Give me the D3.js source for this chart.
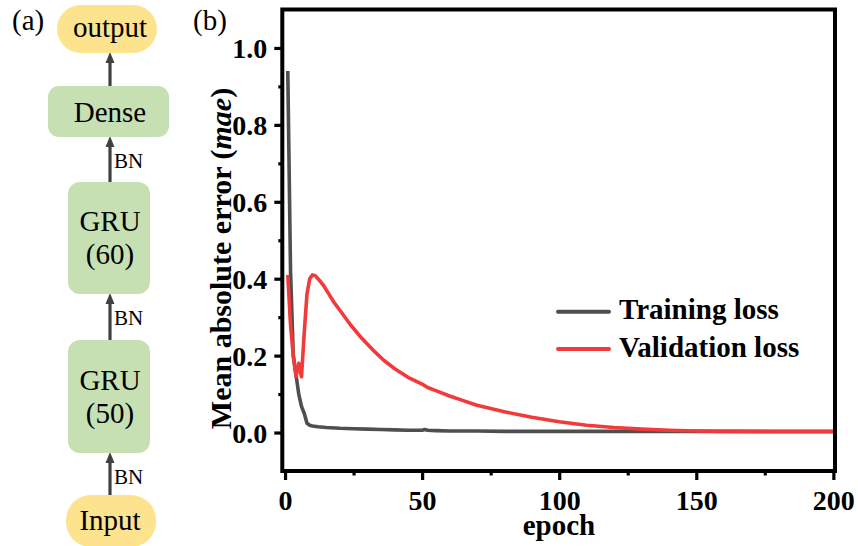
<!DOCTYPE html>
<html>
<head>
<meta charset="utf-8">
<script src="https://cdn.jsdelivr.net/npm/d3@7"></script>
<style>
  html, body { margin: 0; padding: 0; background: #fff; }
  svg { display: block; }
  text { font-family: "Liberation Serif", "Times New Roman", serif; }
</style>
</head>
<body>
<svg id="fig" width="858" height="546"></svg>
<script>
// ---- data ----
const trainEpochs = [1, 2, 3, 4, 5, 6, 7, 8, 9, 10, 12, 15, 20, 25, 30, 35, 40, 45, 50, 51, 52, 55, 60, 70, 80, 90, 100, 120, 140, 160, 180, 200];
const trainLoss   = [0.94, 0.42, 0.20, 0.15, 0.10, 0.068, 0.05, 0.024, 0.019, 0.017, 0.015, 0.013, 0.011, 0.010, 0.009, 0.008, 0.007, 0.006, 0.006, 0.008, 0.006, 0.005, 0.004, 0.004, 0.003, 0.003, 0.003, 0.003, 0.003, 0.003, 0.003, 0.003];

const valEpochs = [1, 2, 3, 4, 5, 6, 7, 8, 9, 10, 11, 12, 14, 16, 18, 20, 24, 28, 32, 36, 40, 45, 50, 52, 55, 60, 65, 70, 80, 90, 100, 110, 120, 130, 140, 150, 160, 180, 200];
const valLoss   = [0.41, 0.28, 0.20, 0.145, 0.18, 0.145, 0.26, 0.36, 0.40, 0.41, 0.408, 0.40, 0.383, 0.36, 0.337, 0.318, 0.279, 0.245, 0.215, 0.188, 0.166, 0.143, 0.126, 0.117, 0.109, 0.095, 0.083, 0.071, 0.054, 0.040, 0.028, 0.019, 0.013, 0.009, 0.006, 0.004, 0.003, 0.002, 0.002];

const seriesNames = ["Training loss", "Validation loss"];
const seriesColors = ["#4f4f4f", "#f23a3a"];

const yMajorTicks = [0, 0.2, 0.4, 0.6, 0.8, 1.0];
const yMinorTicks = [0.1, 0.3, 0.5, 0.7, 0.9];
const xMajorTicks = [0, 50, 100, 150, 200];
const xMinorTicks = [25, 75, 125, 175];

// network diagram layers (top to bottom)
const layers = [
  { lines: ["output"], kind: "io" },
  { lines: ["Dense"], kind: "layer" },
  { lines: ["GRU", "(60)"], kind: "layer" },
  { lines: ["GRU", "(50)"], kind: "layer" },
  { lines: ["Input"], kind: "io" }
];
const edgeLabels = ["", "BN", "BN", "BN"];

// ---- drawing ----
const svg = d3.select("#fig");
const serif = '"Liberation Serif", "Times New Roman", serif';

// ===== panel (a): architecture =====
const boxes = [
  { x: 57, y: 5,   w: 100, h: 48,  r: 24 },
  { x: 48, y: 86,  w: 121, h: 51,  r: 11 },
  { x: 68, y: 182, w: 82,  h: 112, r: 12 },
  { x: 68, y: 340, w: 82,  h: 113, r: 12 },
  { x: 66, y: 495, w: 90,  h: 52,  r: 25 }
];
const baselines = [[37], [121.5], [231, 264], [390, 423], [530]];
const cx = 110;

const pa = svg.append("g");
pa.append("text").attr("x", 12).attr("y", 30).attr("font-size", 29).text("(a)");

// arrows between consecutive boxes, pointing upward
const arrowColor = "#404040";
for (let i = 0; i < boxes.length - 1; i++) {
  const top = boxes[i].y + boxes[i].h;
  const bottom = boxes[i + 1].y;
  pa.append("line")
    .attr("x1", cx).attr("x2", cx)
    .attr("y1", bottom).attr("y2", top + 8)
    .attr("stroke", arrowColor).attr("stroke-width", 3.2);
  pa.append("path")
    .attr("d", `M${cx},${top - 1} L${cx - 4.5},${top + 10} L${cx + 4.5},${top + 10} Z`)
    .attr("fill", arrowColor);
  if (edgeLabels[i]) {
    pa.append("text")
      .attr("x", 114).attr("y", top + 31)
      .attr("font-size", 21)
      .text(edgeLabels[i]);
  }
}

layers.forEach((layer, i) => {
  const b = boxes[i];
  pa.append("rect")
    .attr("x", b.x).attr("y", b.y).attr("width", b.w).attr("height", b.h)
    .attr("rx", b.r).attr("ry", b.r)
    .attr("fill", layer.kind === "io" ? "#fee38f" : "#c6e0b4");
  layer.lines.forEach((t, j) => {
    pa.append("text")
      .attr("x", cx).attr("y", baselines[i][j])
      .attr("text-anchor", "middle")
      .attr("font-size", 29)
      .text(t);
  });
});

// ===== panel (b): loss curves =====
svg.append("text").attr("x", 193).attr("y", 30).attr("font-size", 29).text("(b)");

const x = d3.scaleLinear().domain([-1, 200.6]).range([282.3, 835]);
const y = d3.scaleLinear().domain([-0.1, 1.1]).range([471, 9.5]);

const plot = svg.append("g");

// curves
const line = d3.line().x(d => x(d[0])).y(d => y(d[1]));
const trainData = d3.zip(trainEpochs, trainLoss);
const valData = d3.zip(valEpochs, valLoss);

plot.append("path").datum(trainData)
  .attr("d", line).attr("fill", "none")
  .attr("stroke", seriesColors[0]).attr("stroke-width", 3.6)
  .attr("stroke-linejoin", "round");
plot.append("path").datum(valData)
  .attr("d", line).attr("fill", "none")
  .attr("stroke", seriesColors[1]).attr("stroke-width", 3.6)
  .attr("stroke-linejoin", "round");

// frame
const [x0, x1] = x.range();
const [y0, y1] = y.range();
plot.append("rect")
  .attr("x", x0).attr("y", y1).attr("width", x1 - x0).attr("height", y0 - y1)
  .attr("fill", "none").attr("stroke", "#000").attr("stroke-width", 4);

// axes
function styleAxis(g) {
  g.select(".domain").remove();
  g.selectAll(".tick line").attr("stroke", "#000").attr("stroke-width", 3.2);
  g.selectAll(".tick text")
    .attr("fill", "#000")
    .attr("font-family", serif)
    .attr("font-weight", "bold")
    .attr("font-size", 28);
}

const yAxis = plot.append("g").attr("transform", `translate(${x0},0)`)
  .call(d3.axisLeft(y).tickValues(yMajorTicks).tickSize(8).tickPadding(7).tickFormat(d3.format(".1f")))
  .call(styleAxis);
yAxis.selectAll(".tick text").attr("dy", "0.34em");

plot.append("g").attr("transform", `translate(${x0},0)`)
  .call(d3.axisLeft(y).tickValues(yMinorTicks).tickSize(4).tickFormat(""))
  .call(styleAxis);

const xAxis = plot.append("g").attr("transform", `translate(0,${y0})`)
  .call(d3.axisBottom(x).tickValues(xMajorTicks).tickSize(9).tickFormat(d3.format("d")))
  .call(styleAxis);
xAxis.selectAll(".tick text").attr("y", 39).attr("dy", null);

plot.append("g").attr("transform", `translate(0,${y0})`)
  .call(d3.axisBottom(x).tickValues(xMinorTicks).tickSize(4.5).tickFormat(""))
  .call(styleAxis);

// axis titles
svg.append("text")
  .attr("transform", `translate(231,${(85 + 432) / 2}) rotate(-90)`)
  .attr("text-anchor", "middle")
  .attr("font-size", 30).attr("font-weight", "bold")
  .call(t => {
    t.append("tspan").text("Mean absolute error (");
    t.append("tspan").attr("font-style", "italic").text("mae");
    t.append("tspan").text(")");
  });

svg.append("text")
  .attr("x", 559).attr("y", 535)
  .attr("text-anchor", "middle")
  .attr("font-size", 29).attr("font-weight", "bold")
  .text("epoch");

// legend
const legendY = [311.7, 349];
const legend = svg.append("g");
seriesNames.forEach((name, i) => {
  legend.append("line")
    .attr("x1", 558).attr("x2", 609)
    .attr("y1", legendY[i]).attr("y2", legendY[i])
    .attr("stroke", seriesColors[i]).attr("stroke-width", 4)
    .attr("stroke-linecap", "round");
  legend.append("text")
    .attr("x", 619).attr("y", legendY[i] + 7.5)
    .attr("font-size", 29).attr("font-weight", "bold")
    .text(name);
});
</script>
</body>
</html>
